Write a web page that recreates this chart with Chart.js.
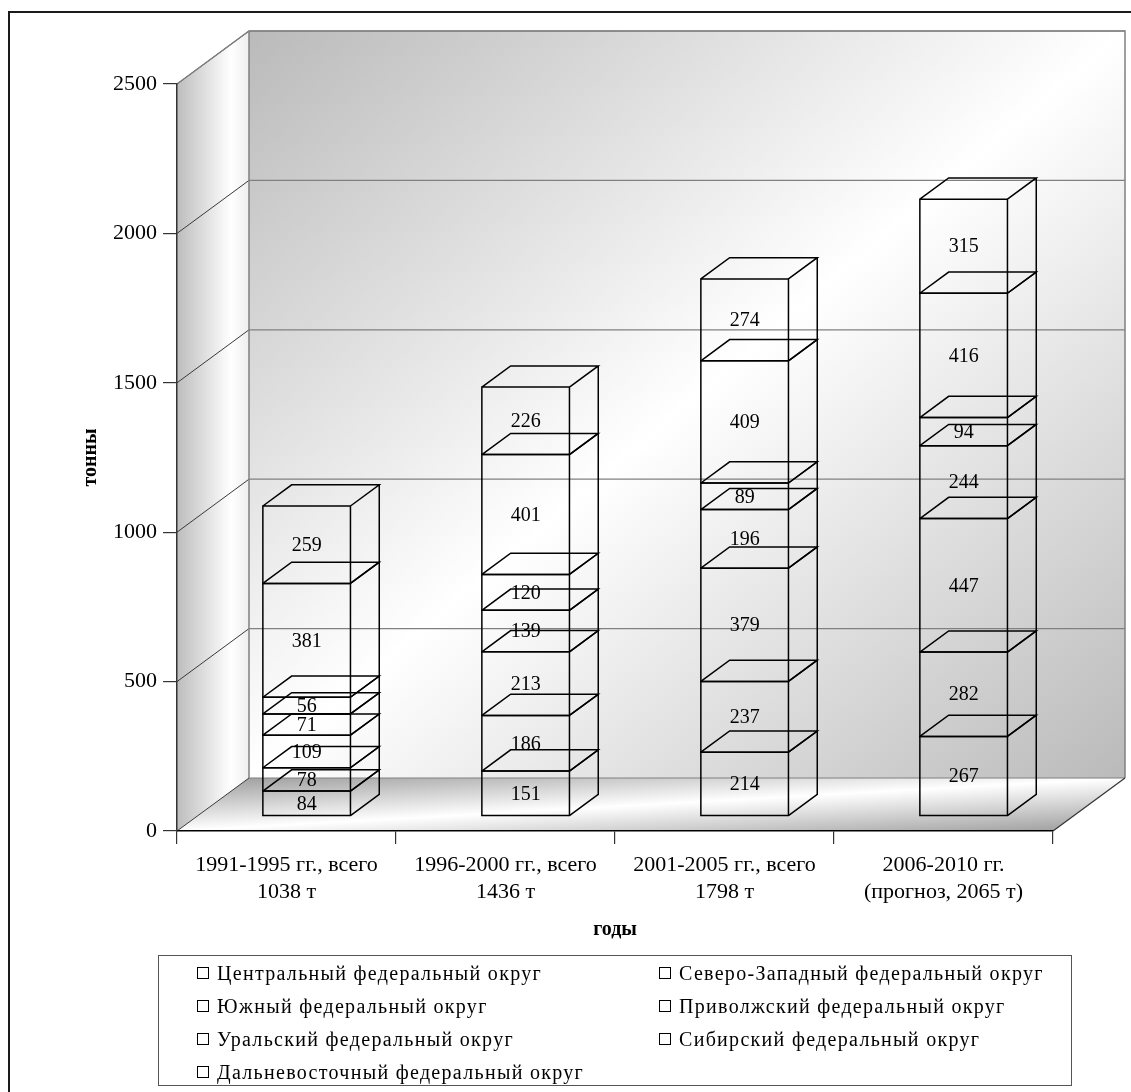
<!DOCTYPE html>
<html>
<head>
<meta charset="utf-8">
<script src="https://cdn.jsdelivr.net/npm/chart.js@4.4.0/dist/chart.umd.min.js"></script>
<style>
html,body{margin:0;padding:0;background:#fff;}
#wrap{position:relative;width:1131px;height:1092px;overflow:hidden;}
canvas{position:absolute;left:0;top:0;}
#legend{position:absolute;left:158px;top:955px;width:914px;height:131px;border:1.5px solid #555;box-sizing:border-box;font-family:"Liberation Serif","Times New Roman",serif;font-size:20px;color:#000;}
.item{position:absolute;height:24px;display:flex;align-items:center;white-space:nowrap;letter-spacing:1.3px;}
.sw{width:12px;height:12px;border:1px solid #000;background:#fff;margin-right:8px;box-sizing:border-box;flex:none;}
</style>
</head>
<body>
<div id="wrap">
<canvas id="c" width="1131" height="1092"></canvas>
<div id="legend"></div>
</div>
<script>
// ---- data ----
const categories = [
  ["1991-1995 гг., всего", "1038 т"],
  ["1996-2000 гг., всего", "1436 т"],
  ["2001-2005 гг., всего", "1798 т"],
  ["2006-2010 гг.", "(прогноз, 2065 т)"]
];
const seriesNames = [
  "Центральный федеральный округ",
  "Северо-Западный федеральный округ",
  "Южный федеральный округ",
  "Приволжский федеральный округ",
  "Уральский федеральный округ",
  "Сибирский федеральный округ",
  "Дальневосточный федеральный округ"
];
const central   = [84, 151, 214, 267];
const northwest = [78, 186, 237, 282];
const south     = [109, 213, 379, 447];
const volga     = [71, 139, 196, 244];
const ural      = [56, 120, 89, 94];
const siberia   = [381, 401, 409, 416];
const fareast   = [259, 226, 274, 315];
const seriesValues = [central, northwest, south, volga, ural, siberia, fareast];
const yTicks = [0, 500, 1000, 1500, 2000, 2500];
const yTitle = "тонны";
const xTitle = "годы";

// ---- 3D look ----
const DX = 72, DY = -53;        // depth of the plot box
const F_OFF = 0.28, F_DEPTH = 0.40;
const SERIF = '"Liberation Serif", "Times New Roman", serif';

function fillDiag(ctx, bx, by, bw, bh, c0, c1, pathFn) {
  ctx.save();
  pathFn();
  ctx.clip();
  ctx.translate(bx, by);
  ctx.scale(bw, bh);
  const g = ctx.createLinearGradient(0, 0, 1, 1);
  g.addColorStop(0, c0); g.addColorStop(0.5, c1); g.addColorStop(1, c0);
  ctx.fillStyle = g;
  ctx.fillRect(0, 0, 1, 1);
  ctx.restore();
}

const scene = {
  id: 'scene',
  beforeDraw(chart) {
    const {ctx, chartArea: a, scales: {y}} = chart;
    const L = a.left, R = a.right, T = a.top, B = a.bottom;
    const bl = L + DX, br = R + DX, bt = T + DY, bb = B + DY;
    ctx.save();
    // outer frame
    ctx.strokeStyle = '#1a1a1a'; ctx.lineWidth = 2;
    ctx.beginPath(); ctx.moveTo(9, 1092); ctx.lineTo(9, 12); ctx.lineTo(1131, 12); ctx.stroke();
    // back wall
    fillDiag(ctx, bl, bt, br - bl, bb - bt, '#bababa', '#ffffff', () => {
      ctx.beginPath(); ctx.rect(bl, bt, br - bl, bb - bt);
    });
    // side wall
    let g = ctx.createLinearGradient(L, 0, bl, 0);
    g.addColorStop(0, '#bdbdbd'); g.addColorStop(0.75, '#ffffff'); g.addColorStop(1, '#eeeeee');
    ctx.fillStyle = g;
    ctx.beginPath(); ctx.moveTo(L, T); ctx.lineTo(bl, bt); ctx.lineTo(bl, bb); ctx.lineTo(L, B); ctx.closePath(); ctx.fill();
    // floor
    fillDiag(ctx, L, bb, br - L, B - bb, '#9a9a9a', '#ffffff', () => {
      ctx.beginPath(); ctx.moveTo(L, B); ctx.lineTo(bl, bb); ctx.lineTo(br, bb); ctx.lineTo(R, B); ctx.closePath();
    });
    // gridlines
    yTicks.forEach(v => {
      const py = y.getPixelForValue(v);
      ctx.strokeStyle = '#808080'; ctx.lineWidth = 1.2;
      ctx.beginPath(); ctx.moveTo(bl, py + DY); ctx.lineTo(br, py + DY); ctx.stroke();
      ctx.strokeStyle = '#3a3a3a'; ctx.lineWidth = 1;
      ctx.beginPath(); ctx.moveTo(L, py); ctx.lineTo(bl, py + DY); ctx.stroke();
    });
    // wall edges
    ctx.strokeStyle = '#808080'; ctx.lineWidth = 1.5;
    ctx.beginPath();
    ctx.moveTo(L, T); ctx.lineTo(bl, bt); ctx.lineTo(br, bt); ctx.lineTo(br, bb);
    ctx.moveTo(bl, bt); ctx.lineTo(bl, bb);
    ctx.stroke();
    ctx.strokeStyle = '#333'; ctx.lineWidth = 1.2;
    ctx.beginPath(); ctx.moveTo(R, B); ctx.lineTo(br, bb); ctx.stroke();
    ctx.restore();
  },
  afterDatasetsDraw(chart) {
    const ctx = chart.ctx;
    const ox = DX * F_OFF, oy = DY * F_OFF, dx = DX * F_DEPTH, dy = DY * F_DEPTH;
    const labels = [];
    ctx.save();
    ctx.strokeStyle = '#000'; ctx.lineWidth = 1.5;
    chart.data.datasets.forEach((ds, i) => {
      const meta = chart.getDatasetMeta(i);
      meta.data.forEach((el, j) => {
        const p = el.getProps(['x', 'y', 'base', 'width'], true);
        const l = p.x - p.width / 2 + ox, r = p.x + p.width / 2 + ox;
        const t = Math.min(p.y, p.base) + oy, b = Math.max(p.y, p.base) + oy;
        ctx.beginPath();
        ctx.rect(l, t, r - l, b - t);
        ctx.moveTo(l, t); ctx.lineTo(l + dx, t + dy); ctx.lineTo(r + dx, t + dy); ctx.lineTo(r, t);
        ctx.moveTo(r + dx, t + dy); ctx.lineTo(r + dx, b + dy); ctx.lineTo(r, b);
        ctx.stroke();
        labels.push([String(ds.data[j]), (l + r) / 2, (t + b) / 2]);
      });
    });
    ctx.fillStyle = '#000';
    ctx.font = '20px ' + SERIF;
    ctx.textAlign = 'center'; ctx.textBaseline = 'middle';
    labels.forEach(([s, x, y]) => ctx.fillText(s, x, y + 1));
    ctx.restore();
  }
};

Chart.defaults.font.family = SERIF;
Chart.defaults.color = '#000';

new Chart(document.getElementById('c'), {
  type: 'bar',
  data: {
    labels: categories,
    datasets: seriesNames.map((n, i) => ({
      label: n,
      data: seriesValues[i],
      backgroundColor: 'rgba(0,0,0,0)',
      borderWidth: 0,
      barPercentage: 0.4,
      categoryPercentage: 1.0
    }))
  },
  options: {
    responsive: false,
    animation: false,
    events: [],
    devicePixelRatio: 1,
    layout: { padding: { left: 75, top: 84, right: 78, bottom: 146 } },
    plugins: { legend: { display: false }, tooltip: { enabled: false } },
    scales: {
      x: {
        stacked: true,
        afterFit: s => { s.height = 115; },
        grid: { offset: true, drawOnChartArea: false, drawTicks: true, tickLength: 13, color: '#333', lineWidth: 1.2 },
        border: { display: true, color: '#000', width: 1.5 },
        ticks: { font: { size: 22, lineHeight: 1.23 }, padding: 8, maxRotation: 0, autoSkip: false },
        title: { display: true, text: xTitle, font: { size: 20, weight: 'bold' } }
      },
      y: {
        stacked: true,
        min: 0, max: 2500,
        afterFit: s => { s.width = 102; },
        afterBuildTicks: s => { s.ticks = yTicks.map(v => ({ value: v })); },
        grid: { drawOnChartArea: false, drawTicks: true, tickLength: 14, color: '#333', lineWidth: 1.2 },
        border: { display: true, color: '#333', width: 1.5 },
        ticks: { font: { size: 22 }, padding: 6, callback: v => String(v) },
        title: { display: true, text: yTitle, font: { size: 20, weight: 'bold' } }
      }
    }
  },
  plugins: [scene]
});

// legend (two columns, row by row)
const lg = document.getElementById('legend');
seriesNames.forEach((n, i) => {
  const col = i % 2, row = Math.floor(i / 2);
  const d = document.createElement('div');
  d.className = 'item';
  d.style.left = (col === 0 ? 38 : 500) + 'px';
  d.style.top = (5 + row * 33) + 'px';
  d.innerHTML = '<span class="sw"></span><span></span>';
  d.lastChild.textContent = n;
  lg.appendChild(d);
});
</script>
</body>
</html>
